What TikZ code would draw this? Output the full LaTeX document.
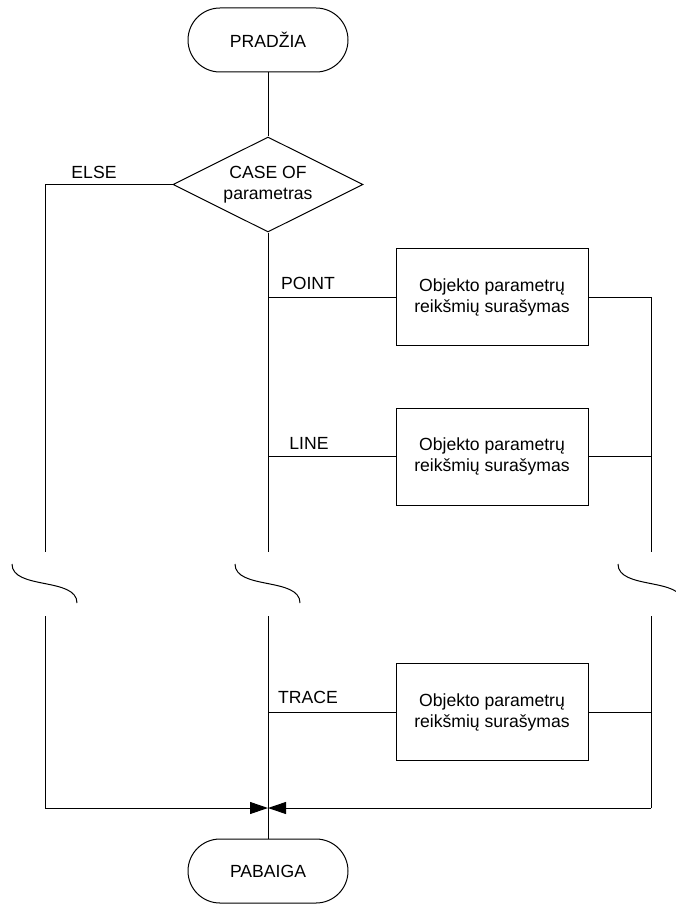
\documentclass[tikz,border=0pt]{standalone}
\usepackage{fontspec}
\setmainfont{Liberation Sans}
\usetikzlibrary{shapes.geometric,arrows.meta}
\begin{document}
\begin{tikzpicture}[x=0.5pt,y=-0.5pt,line width=0.5pt,
  every node/.style={font=\fontsize{8.8}{10.5}\selectfont},
  term/.style={draw,rounded corners=16pt,minimum width=80pt,minimum height=32pt,inner sep=0pt},
  cond/.style={draw,diamond,aspect=2,minimum width=95pt,minimum height=47.5pt,inner sep=0pt,align=center},
  proc/.style={draw,minimum width=96pt,minimum height=48.5pt,inner sep=0pt,align=center},
  tip/.style={-{Triangle[length=9pt,width=6pt]}}]
       \useasboundingbox (0,0) rectangle (675,904);
       \node[term] (start) at (268,40) {PRADŽIA};
       \node[cond] (case) at (268,184.5) {CASE OF\\parametras};
       \node[proc] (obj1) at (492,297) {Objekto parametrų\\reikšmių surašymas};
       \node[proc] (obj2) at (492,456.5) {Objekto parametrų\\reikšmių surašymas};
       \node[proc] (obj3) at (492,712) {Objekto parametrų\\reikšmių surašymas};
       \node[term] (end) at (268,871) {PABAIGA};
       \node (lelse) at (94,172) {ELSE};
       \node (lpoint) at (308,283) {POINT};
       \node (lline) at (309,443) {LINE};
       \node (ltrace) at (308,697) {TRACE};
       \coordinate (else1) at (45,184.5);
       \coordinate (else2) at (45,552);
       \coordinate (else3) at (45,616);
       \coordinate (else4) at (45,808);
       \coordinate (main1) at (268,552);
       \coordinate (main2) at (268,616);
       \coordinate (join) at (268,808);
       \coordinate (right1) at (651,552);
       \coordinate (right2) at (651,616);
       \coordinate (right3) at (651,808);
       \coordinate (p1) at (main1 |- obj1);
       \coordinate (p2) at (main1 |- obj2);
       \coordinate (p3) at (main1 |- obj3);
       \coordinate (r1) at (right1 |- obj1);
       \coordinate (r2) at (right1 |- obj2);
       \coordinate (r3) at (right1 |- obj3);
       \draw (start) -- (case);
       \draw (case.west) -- (else1) -- (else2);
       \draw (case) -- (main1);
       \draw (p1) -- (obj1.west);
       \draw (p2) -- (obj2.west);
       \draw (p3) -- (obj3.west);
       \draw (obj1.east) -- (r1) -- (right1);
       \draw (obj2.east) -- (r2);
       \draw (obj3.east) -- (r3);
       \draw (else3) -- (else4);
       \draw (right2) -- (right3);
       \draw[tip] (else4) -- (join);
       \draw[tip] (right3) -- (join);
       \draw (main2) -- (end);
       \foreach \x in {45,268,651}
         \draw (\x-33,564) .. controls (\x-33,590) and (\x+32,577) .. (\x+32,603);
      \end{tikzpicture}
\end{document}
